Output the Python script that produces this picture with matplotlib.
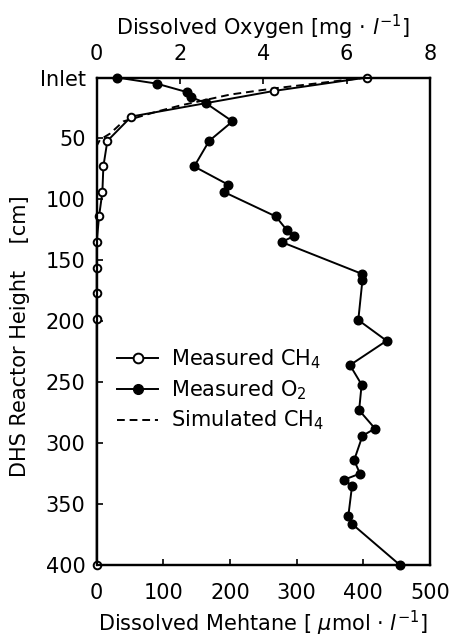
import numpy as np
import matplotlib
matplotlib.use("Agg")
import matplotlib.pyplot as plt
from matplotlib.lines import Line2D

# measured methane (bottom axis, umol/l) vs reactor height (cm)
ch4_height = [0, 11, 32, 52, 73, 94, 114, 135, 156, 177, 198, 400]
ch4_conc = [405, 266, 52, 16, 10, 8.5, 3.5, 0, 0, 0, 0, 0]

# simulated methane curve
sim_height = [0, 9, 14, 23, 28, 36, 46, 51, 56]
sim_conc = [405, 265, 200, 125, 90, 40, 20, 5, 0]

# measured dissolved oxygen (top axis, mg/l)
o2_height = [0, 5, 12, 16, 21, 36, 52, 73, 88, 94, 114, 125, 130, 135,
             161, 166, 199, 216, 236, 252, 273, 288, 294,
             314, 325, 330, 335, 360, 366, 400]
o2_conc = [0.49, 1.44, 2.17, 2.26, 2.62, 3.26, 2.70, 2.34, 3.16, 3.06, 4.30, 4.56, 4.74, 4.44,
           6.36, 6.38, 6.28, 6.96, 6.08, 6.36, 6.30, 6.68, 6.38,
           6.18, 6.32, 5.94, 6.13, 6.04, 6.12, 7.28]

y_ticks = [0, 50, 100, 150, 200, 250, 300, 350, 400]
y_ticklabels = ["Inlet", "50", "100", "150", "200", "250", "300", "350", "400"]

fs = 15
lw = 1.4
fig = plt.figure(figsize=(4.54, 6.37), dpi=100)
ax = fig.add_axes([0.213, 0.113, 0.734, 0.7653])
ax2 = ax.twiny()

ax.plot(sim_conc, sim_height, color="k", linestyle=(0, (4, 2.5)), linewidth=lw, zorder=2)
ax.plot(ch4_conc, ch4_height, color="k", linewidth=lw, marker="o", markersize=5.5,
        markerfacecolor="white", markeredgecolor="k", markeredgewidth=1.4, zorder=3,
        clip_on=False)
ax2.plot(o2_conc, o2_height, color="k", linewidth=lw, marker="o", markersize=6.2,
         markerfacecolor="k", markeredgecolor="k", zorder=3, clip_on=False)

ax.set_xlim(0, 500)
ax.set_ylim(400, 0)
ax2.set_xlim(0, 8)
ax.set_xticks([0, 100, 200, 300, 400, 500])
ax2.set_xticks([0, 2, 4, 6, 8])
ax.set_yticks(y_ticks)
ax.set_yticklabels(y_ticklabels)

ax.tick_params(axis="x", direction="in", length=4, width=1.2, labelsize=fs, pad=13)
ax.tick_params(axis="y", direction="in", length=4, width=1.2, labelsize=fs, pad=8)
ax2.tick_params(axis="x", direction="in", length=4, width=1.2, labelsize=fs, pad=10)

for a in (ax, ax2):
    for s in a.spines.values():
        s.set_linewidth(1.6)

ax.set_xlabel("Dissolved Mehtane [ $\\mu$mol · $\\mathit{l}^{-1}$]", fontsize=fs, labelpad=4)
ax2.set_xlabel("Dissolved Oxygen [mg · $\\mathit{l}^{-1}$]", fontsize=fs, labelpad=6)
ax.set_ylabel("DHS Reactor Height    [cm]", fontsize=fs)
ax.yaxis.set_label_coords(-0.2, 0.47)

handles = [
    Line2D([], [], color="k", linewidth=lw, marker="o", markersize=7,
           markerfacecolor="white", markeredgewidth=1.4),
    Line2D([], [], color="k", linewidth=lw, marker="o", markersize=7,
           markerfacecolor="k"),
    Line2D([], [], color="k", linewidth=lw, linestyle=(0, (4, 2.5))),
]
labels = ["Measured CH$_4$", "Measured O$_2$", "Simulated CH$_4$"]
ax2.legend(handles, labels, loc="upper left", bbox_to_anchor=(0.06, 0.447),
           frameon=False, fontsize=fs, handlelength=2.0, handletextpad=0.6,
           labelspacing=0.35, borderpad=0, borderaxespad=0)

fig.savefig("out.png", dpi=100)
